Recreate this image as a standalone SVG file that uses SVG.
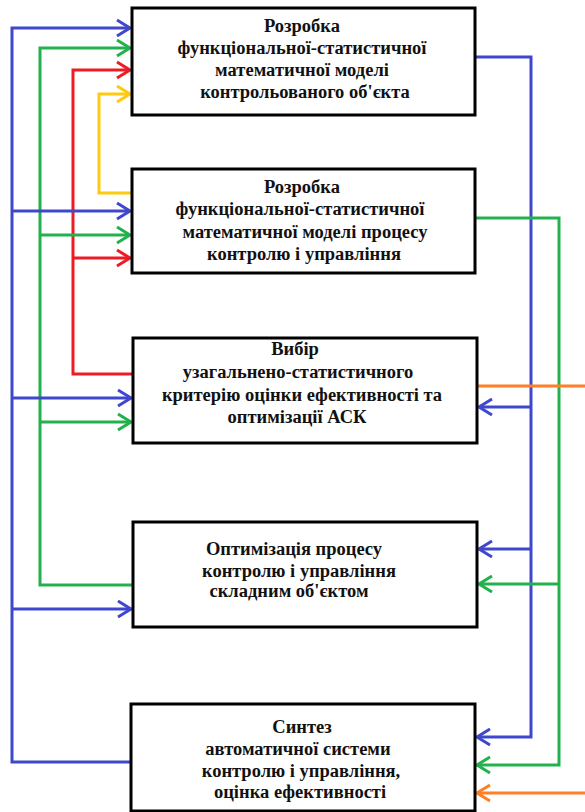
<svg xmlns="http://www.w3.org/2000/svg" width="585" height="812" viewBox="0 0 585 812">
<style>
.box{fill:#fff;stroke:#000;stroke-width:3}
.t{font-family:"Liberation Serif","Times New Roman","DejaVu Serif",serif;font-weight:bold;font-size:18.5px;text-anchor:middle;fill:#111}
.c{fill:none;stroke-width:3}
.b{stroke:#3f48cc}.g{stroke:#22b14c}.r{stroke:#ed1c24}.y{stroke:#ffc90e}.o{stroke:#ff7f27}
</style>
<defs>
<marker id="ab" markerUnits="userSpaceOnUse" markerWidth="18" markerHeight="20" refX="14" refY="10" orient="auto" viewBox="0 0 18 20"><path d="M1,2 L14,10 L1,18" fill="none" stroke="#3f48cc" stroke-width="3"/></marker>
<marker id="ag" markerUnits="userSpaceOnUse" markerWidth="18" markerHeight="20" refX="14" refY="10" orient="auto" viewBox="0 0 18 20"><path d="M1,2 L14,10 L1,18" fill="none" stroke="#22b14c" stroke-width="3"/></marker>
<marker id="ar" markerUnits="userSpaceOnUse" markerWidth="18" markerHeight="20" refX="14" refY="10" orient="auto" viewBox="0 0 18 20"><path d="M1,2 L14,10 L1,18" fill="none" stroke="#ed1c24" stroke-width="3"/></marker>
<marker id="ay" markerUnits="userSpaceOnUse" markerWidth="18" markerHeight="20" refX="14" refY="10" orient="auto" viewBox="0 0 18 20"><path d="M1,2 L14,10 L1,18" fill="none" stroke="#ffc90e" stroke-width="3"/></marker>
<marker id="ao" markerUnits="userSpaceOnUse" markerWidth="18" markerHeight="20" refX="14" refY="10" orient="auto" viewBox="0 0 18 20"><path d="M1,2 L14,10 L1,18" fill="none" stroke="#ff7f27" stroke-width="3"/></marker>
</defs>
<g id="connectors">
<path class="c y" d="M132,193 H99 V94 H130" marker-end="url(#ay)"/>
<path class="c r" d="M133,374 H73 V70 H130" marker-end="url(#ar)"/>
<path class="c r" d="M73,258 H130" marker-end="url(#ar)"/>
<path class="c g" d="M132,585 H40 V48 H130" marker-end="url(#ag)"/>
<path class="c g" d="M40,235 H130" marker-end="url(#ag)"/>
<path class="c g" d="M40,422 H131" marker-end="url(#ag)"/>
<path class="c b" d="M131,762 H12 V28 H130" marker-end="url(#ab)"/>
<path class="c b" d="M12,211 H130" marker-end="url(#ab)"/>
<path class="c b" d="M12,398 H131" marker-end="url(#ab)"/>
<path class="c b" d="M12,609 H131" marker-end="url(#ab)"/>
<path class="c b" d="M475,57 H531 V737 H477" marker-end="url(#ab)"/>
<path class="c b" d="M531,407 H479" marker-end="url(#ab)"/>
<path class="c b" d="M531,549 H479" marker-end="url(#ab)"/>
<path class="c g" d="M475,218 H559 V765 H477" marker-end="url(#ag)"/>
<path class="c g" d="M559,584 H479" marker-end="url(#ag)"/>
<path class="c o" d="M477,386 H585"/>
<path class="c o" d="M585,793 H477" marker-end="url(#ao)"/>
</g>
<g id="n1">
<rect class="box" x="132" y="8" width="343" height="107"/>
<text class="t"><tspan x="302" y="32">Розробка</tspan><tspan x="302" y="54">функціональної-статистичної</tspan><tspan x="302" y="76">математичної моделі</tspan><tspan x="305" y="98">контрольованого об'єкта</tspan></text>
</g>
<g id="n2">
<rect class="box" x="132" y="169" width="343" height="104"/>
<text class="t"><tspan x="302" y="193">Розробка</tspan><tspan x="300" y="215">функціональної-статистичної</tspan><tspan x="305" y="238">математичної моделі процесу</tspan><tspan x="304" y="260">контролю і управління</tspan></text>
</g>
<g id="n3">
<rect class="box" x="133" y="338" width="344" height="105"/>
<text class="t"><tspan x="295" y="355">Вибір</tspan><tspan x="298" y="378">узагальнено-статистичного</tspan><tspan x="302" y="401">критерію оцінки ефективності та</tspan><tspan x="297" y="423">оптимізації АСК</tspan></text>
</g>
<g id="n4">
<rect class="box" x="133" y="522" width="344" height="105"/>
<text class="t"><tspan x="294" y="555">Оптимізація процесу</tspan><tspan x="299" y="577">контролю і управління</tspan><tspan x="289" y="597">складним об'єктом</tspan></text>
</g>
<g id="n5">
<rect class="box" x="131" y="704" width="344" height="107"/>
<text class="t"><tspan x="302" y="733">Синтез</tspan><tspan x="298" y="755">автоматичної системи</tspan><tspan x="301" y="777">контролю і управління,</tspan><tspan x="300" y="798">оцінка ефективності</tspan></text>
</g>
</svg>
